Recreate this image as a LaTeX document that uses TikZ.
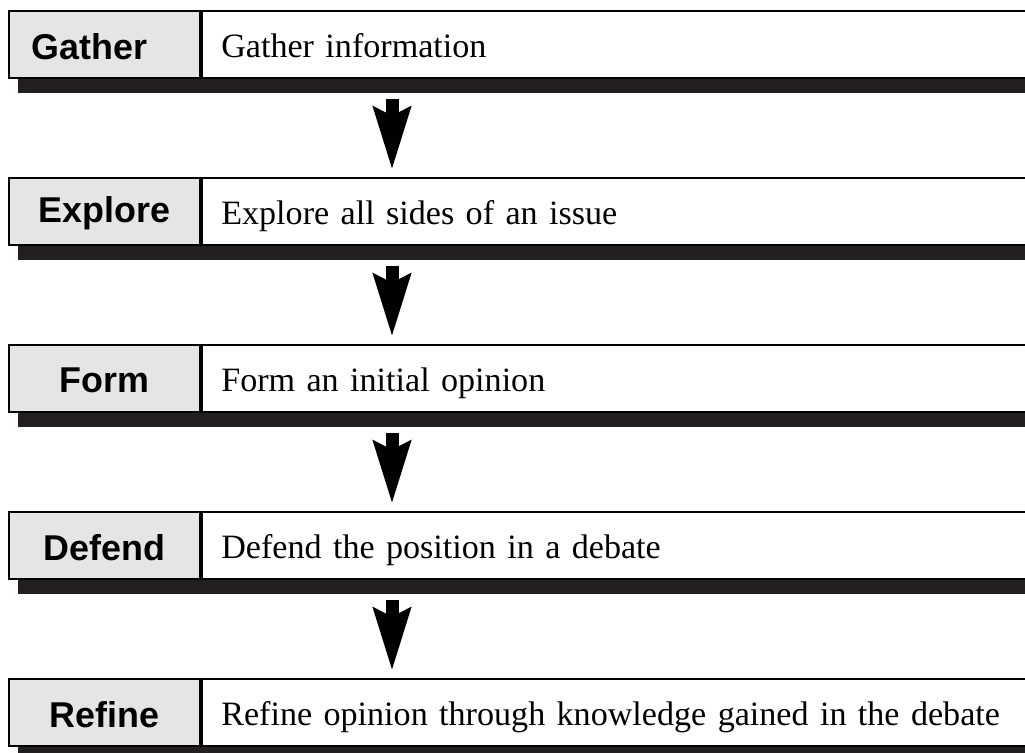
\documentclass[tikz,border=0pt]{standalone}
\usepackage{fontspec}
\setmainfont{Liberation Serif}
\newfontfamily\labelfont{Liberation Sans}
\usetikzlibrary{positioning,arrows.meta}
\definecolor{shadowgray}{RGB}{35,31,32}
\tikzset{
  labelbox/.style={draw=black,line width=.6pt,fill=black!10,anchor=north west,
    minimum width=1.91cm,minimum height=.67cm,inner sep=0pt},
  labeltext/.style={font=\labelfont\bfseries\fontsize{10.2}{12}\selectfont},
  textbox/.style={draw=black,line width=.6pt,fill=white,anchor=north west,
    minimum height=.67cm,text width=8.6cm,inner xsep=1.9mm,inner ysep=0pt,align=left,
    font=\fontsize{9.7}{12}\selectfont,text height=1.6ex,text depth=0pt},
  downarrow/.style={line width=3.7pt,-{Stealth[length=6.2mm,width=3.6mm,inset=.8mm]}}
}
\begin{document}
\begin{tikzpicture}[x=.01cm,y=-.01cm]
  \clip(0,0)rectangle(1025,752);
  \fill[white](0,0)rectangle(1025,752);
  \foreach \y/\name/\lab/\dx/\txt in {10/gather/Gather/-15/Gather information,
      177/explore/Explore/0/Explore all sides of an issue,
      344/form/Form/0/Form an initial opinion,
      511/defend/Defend/0/Defend the position in a debate,
      678/refine/Refine/0/Refine opinion through knowledge gained in the debate}{
    \fill[shadowgray](18,\y+15)rectangle(1100,\y+83);
    \node[labelbox](\name)at(8,\y){};
    \node[labeltext](\name lab)at([xshift=\dx*.01cm,yshift=-.2mm]\name.center){\lab};
    \node[textbox](\name txt)at(\name.north east){\txt};
    \coordinate(\name in)at(392,\y-7);
    \coordinate(\name out)at(392,\y+89);
  }
  \foreach \a/\b in {gather/explore,explore/form,form/defend,defend/refine}{
    \draw[downarrow](\a out)--(\b in);
  }
\end{tikzpicture}
\end{document}
